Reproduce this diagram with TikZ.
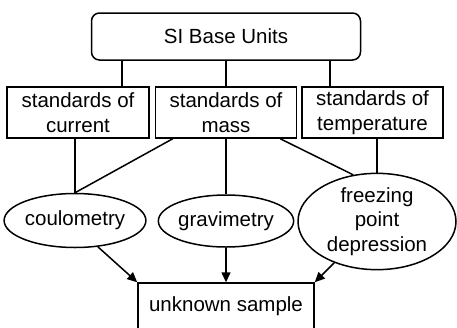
\documentclass[tikz,border=0pt]{standalone}
\usepackage{fontspec}
\setmainfont{Liberation Sans}
\usetikzlibrary{shapes.geometric,arrows.meta}
\begin{document}
\begin{tikzpicture}[x=1pt,y=-1pt,
  font=\fontsize{20.5}{24.5}\selectfont,
  line width=1.5pt,
  box/.style={draw, rectangle, align=center, inner sep=0pt, minimum height=51pt},
  oval/.style={draw, ellipse, align=center, inner sep=0pt},
  arr/.style={-{Triangle[length=10pt,width=9pt]}}]
\useasboundingbox (0,0) rectangle (457,327);
\node[draw, rounded corners=8pt, minimum width=269pt, minimum height=47pt, inner sep=0pt] (si) at (226,36.5) {SI Base Units};
\node[box, minimum width=142pt] (cur) at (78,112.5) {standards of\\current};
\node[box, minimum width=141pt] (mass) at (226,112.5) {standards of\\mass};
\node[box, minimum width=141pt] (temp) at (372.5,112.5) {standards of\\temperature};
\node[oval, minimum width=130pt, minimum height=54pt] (coul) at (75,220.5) {coulometry};
\node[oval, minimum width=131pt, minimum height=52pt] (grav) at (226,221) {gravimetry};
\node[oval, minimum width=158pt, minimum height=89pt] (frz) at (377,221.5) {freezing\\point\\depression};
\node[draw, rectangle, inner sep=0pt, minimum width=176pt, minimum height=47pt] (unk) at (226,306.5) {unknown sample};
\draw (si.south -| 122,0) -- (cur.north -| 122,0);
\draw (si.south -| mass.north) -- (mass.north);
\draw (si.south -| 330,0) -- (temp.north -| 330,0);
\draw (cur.south -| coul.north) -- (coul.north);
\draw ([xshift=18pt]mass.south west) -- (coul.north);
\draw (mass.south) -- (grav.north);
\draw ([xshift=-17pt]mass.south east) -- (frz.117);
\draw (temp.south -| frz.north) -- (frz.north);
\draw[arr] (coul.-49) -- (unk.north west);
\draw[arr] (grav.south) -- (unk.north);
\draw[arr] (frz.-136) -- (unk.north east);
\end{tikzpicture}
\end{document}
